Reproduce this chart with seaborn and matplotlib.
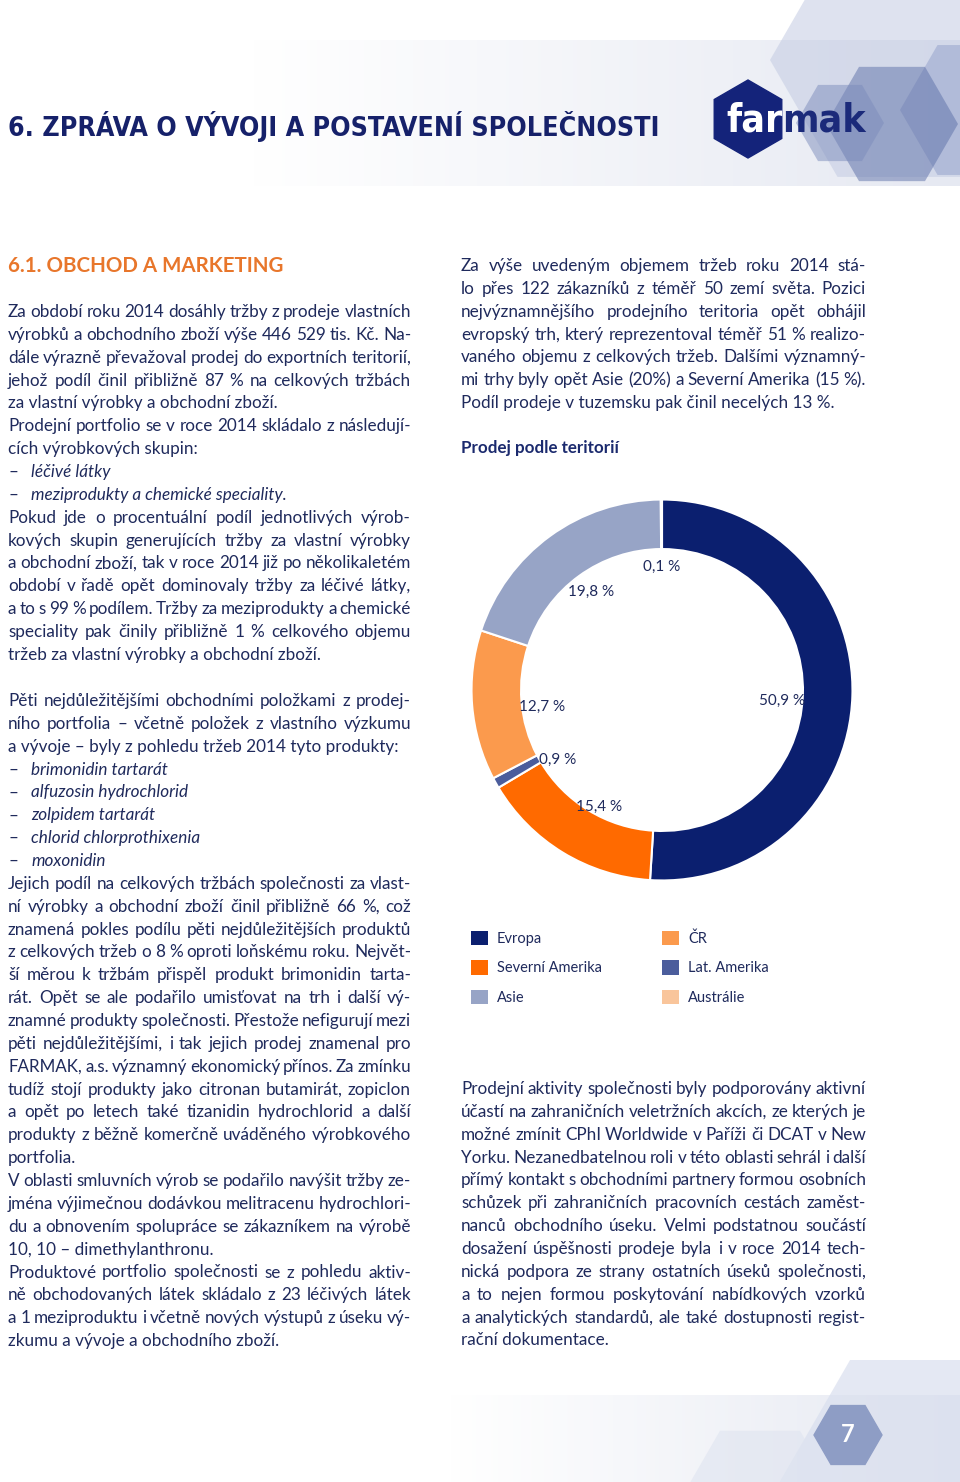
import numpy as np
import pandas as pd
import seaborn as sns
import matplotlib.pyplot as plt
from matplotlib import font_manager as fm
from matplotlib.patches import RegularPolygon, Rectangle, Patch
from matplotlib.colors import LinearSegmentedColormap

# chart data
regions = ['Evropa', 'Severní Amerika', 'Lat. Amerika', 'ČR', 'Asie', 'Austrálie']
shares = [50.9, 15.4, 0.9, 12.7, 19.8, 0.1]
share_labels = ['50,9 %', '15,4 %', '0,9 %', '12,7 %', '19,8 %', '0,1 %']
region_colors = ['#0b1f6f', '#ff6a00', '#4b5d9c', '#fb9a4d', '#97a4c6', '#f9c59b']
legend_order = ['Evropa', 'Severní Amerika', 'Asie', 'ČR', 'Lat. Amerika', 'Austrálie']

title = '6. ZPRÁVA O VÝVOJI A POSTAVENÍ SPOLEČNOSTI'
section = '6.1. OBCHOD A MARKETING'
chart_title = 'Prodej podle teritorií'

# j = justified, l = last line of paragraph, b = bullet
left_top = [
    ('j', 'Za období roku 2014 dosáhly tržby z prodeje vlastních'),
    ('j', 'výrobků a obchodního zboží výše 446 529 tis. Kč. Na-'),
    ('j', 'dále výrazně převažoval prodej do exportních teritorií,'),
    ('j', 'jehož podíl činil přibližně 87 % na celkových tržbách'),
    ('l', 'za vlastní výrobky a obchodní zboží.'),
    ('j', 'Prodejní portfolio se v roce 2014 skládalo z následují-'),
    ('l', 'cích výrobkových skupin:'),
    ('b', 'léčivé látky'),
    ('b', 'meziprodukty a chemické speciality.'),
    ('j', 'Pokud jde o procentuální podíl jednotlivých výrob-'),
    ('j', 'kových skupin generujících tržby za vlastní výrobky'),
    ('j', 'a obchodní zboží, tak v roce 2014 již po několikaletém'),
    ('j', 'období v řadě opět dominovaly tržby za léčivé látky,'),
    ('j', 'a to s 99 % podílem. Tržby za meziprodukty a chemické'),
    ('j', 'speciality pak činily přibližně 1 % celkového objemu'),
    ('l', 'tržeb za vlastní výrobky a obchodní zboží.'),
]
left_bottom = [
    ('j', 'Pěti nejdůležitějšími obchodními položkami z prodej-'),
    ('j', 'ního portfolia – včetně položek z vlastního výzkumu'),
    ('l', 'a vývoje – byly z pohledu tržeb 2014 tyto produkty:'),
    ('b', 'brimonidin tartarát'),
    ('b', 'alfuzosin hydrochlorid'),
    ('b', 'zolpidem tartarát'),
    ('b', 'chlorid chlorprothixenia'),
    ('b', 'moxonidin'),
    ('j', 'Jejich podíl na celkových tržbách společnosti za vlast-'),
    ('j', 'ní výrobky a obchodní zboží činil přibližně 66 %, což'),
    ('j', 'znamená pokles podílu pěti nejdůležitějších produktů'),
    ('j', 'z celkových tržeb o 8 % oproti loňskému roku. Největ-'),
    ('j', 'ší měrou k tržbám přispěl produkt brimonidin tarta-'),
    ('j', 'rát. Opět se ale podařilo umisťovat na trh i další vý-'),
    ('j', 'znamné produkty společnosti. Přestože nefigurují mezi'),
    ('j', 'pěti nejdůležitějšími, i tak jejich prodej znamenal pro'),
    ('j', 'FARMAK, a.s. významný ekonomický přínos. Za zmínku'),
    ('j', 'tudíž stojí produkty jako citronan butamirát, zopiclon'),
    ('j', 'a opět po letech také tizanidin hydrochlorid a další'),
    ('j', 'produkty z běžně komerčně uváděného výrobkového'),
    ('l', 'portfolia.'),
    ('j', 'V oblasti smluvních výrob se podařilo navýšit tržby ze-'),
    ('j', 'jména výjimečnou dodávkou melitracenu hydrochlori-'),
    ('j', 'du a obnovením spolupráce se zákazníkem na výrobě'),
    ('l', '10, 10 – dimethylanthronu.'),
    ('j', 'Produktové portfolio společnosti se z pohledu aktiv-'),
    ('j', 'ně obchodovaných látek skládalo z 23 léčivých látek'),
    ('j', 'a 1 meziproduktu i včetně nových výstupů z úseku vý-'),
    ('l', 'zkumu a vývoje a obchodního zboží.'),
]
right_top = [
    ('j', 'Za výše uvedeným objemem tržeb roku 2014 stá-'),
    ('j', 'lo přes 122 zákazníků z téměř 50 zemí světa. Pozici'),
    ('j', 'nejvýznamnějšího prodejního teritoria opět obhájil'),
    ('j', 'evropský trh, který reprezentoval téměř 51 % realizo-'),
    ('j', 'vaného objemu z celkových tržeb. Dalšími významný-'),
    ('j', 'mi trhy byly opět Asie (20%) a Severní Amerika (15 %).'),
    ('l', 'Podíl prodeje v tuzemsku pak činil necelých 13 %.'),
]
right_bottom = [
    ('j', 'Prodejní aktivity společnosti byly podporovány aktivní'),
    ('j', 'účastí na zahraničních veletržních akcích, ze kterých je'),
    ('j', 'možné zmínit CPhI Worldwide v Paříži či DCAT v New'),
    ('j', 'Yorku. Nezanedbatelnou roli v této oblasti sehrál i další'),
    ('j', 'přímý kontakt s obchodními partnery formou osobních'),
    ('j', 'schůzek při zahraničních pracovních cestách zaměst-'),
    ('j', 'nanců obchodního úseku. Velmi podstatnou součástí'),
    ('j', 'dosažení úspěšnosti prodeje byla i v roce 2014 tech-'),
    ('j', 'nická podpora ze strany ostatních úseků společnosti,'),
    ('j', 'a to nejen formou poskytování nabídkových vzorků'),
    ('j', 'a analytických standardů, ale také dostupnosti regist-'),
    ('l', 'rační dokumentace.'),
]

sns.set_theme(style='white')
plt.rcParams['font.family'] = ['Lato', 'DejaVu Sans']


def condensed_bold():
    # a bold narrow face for the headline, if one is installed
    prefs = ['Noto Sans', 'Liberation Sans Narrow', 'DejaVu Sans', 'Open Sans', 'Roboto']
    found = []
    for f in fm.fontManager.ttflist:
        w = f.weight if isinstance(f.weight, int) else fm.weight_dict.get(f.weight, 400)
        narrow = 'condensed' in str(f.stretch) or 'Narrow' in f.name
        if narrow and 600 <= w <= 800 and f.style == 'normal':
            rank = prefs.index(f.name) if f.name in prefs else len(prefs)
            found.append(('Extra' in f.fname, rank, abs(w - 700), f.fname))
    if found:
        return fm.FontProperties(fname=sorted(found)[0][3])
    return fm.FontProperties(family='Lato', weight='bold')


head_font = condensed_bold()

W, H = 960, 1482
navy = '#1f2a5c'
fig = plt.figure(figsize=(9.6, 14.82), dpi=100)
fig.patch.set_facecolor('white')
bg = fig.add_axes([0, 0, 1, 1])
bg.axis('off')
renderer = fig.canvas.get_renderer()


def width_of(t):
    return t.get_window_extent(renderer).width


def fit(t, target):
    # scale a text so its width matches the reference
    t.set_fontsize(t.get_fontsize() * target / width_of(t))


# header / footer decoration
light = LinearSegmentedColormap.from_list('band', ['#ffffff', '#e6e9f2'])
bg.imshow(np.linspace(0, 1, 200)[None, :], cmap=light, aspect='auto',
          extent=(250, 960, 186, 40), zorder=0)
bg.imshow(np.linspace(0, 1, 200)[None, :], cmap=light, aspect='auto',
          extent=(450, 960, 1482, 1395), zorder=0)
head_clip = Rectangle((0, 0), 960, 186, transform=bg.transData)
foot_clip = Rectangle((0, 1360), 960, 122, transform=bg.transData)
for (cx, cy, r, c, a) in [(905, 60, 135, '#c3cbe2', 0.55), (975, 110, 75, '#8a99c6', 0.45),
                          (892, 124, 66, '#5d70a8', 0.5), (840, 123, 44, '#7c8cbc', 0.5)]:
    hx = RegularPolygon((cx, cy), 6, radius=r, orientation=np.pi / 6, color=c, alpha=a,
                        lw=0, zorder=1)
    bg.add_patch(hx)
    hx.set_clip_path(head_clip)
for (cx, cy, r, c, a) in [(930, 1490, 155, '#d9dfee', 0.7), (760, 1500, 80, '#dfe4f0', 0.6)]:
    hx = RegularPolygon((cx, cy), 6, radius=r, orientation=np.pi / 6, color=c, alpha=a,
                        lw=0, zorder=1)
    bg.add_patch(hx)
    hx.set_clip_path(foot_clip)

# logo: "far" in white on the hexagon, "mak" in navy, same size, 138 px together
bg.add_patch(RegularPolygon((748, 119), 6, radius=39, orientation=0, color='#14237a', zorder=3))
t1 = bg.text(726, 131, 'far', ha='left', va='baseline', fontproperties=head_font,
             fontsize=28, color='white', zorder=4)
t2 = bg.text(0, 131, 'mak', ha='left', va='baseline', fontproperties=head_font,
             fontsize=28, color='#1b2a7a', zorder=4)
k = 140 / (width_of(t1) + width_of(t2))
t1.set_fontsize(28 * k)
t2.set_fontsize(28 * k)
t2.set_x(726 + width_of(t1))

# page number
bg.add_patch(RegularPolygon((848, 1435), 6, radius=34, orientation=np.pi / 6,
                            color='#8e9dc5', zorder=3))
bg.text(848, 1435, '7', ha='center', va='center', fontsize=17, fontweight='bold',
        color='white', zorder=4)

t = bg.text(8, 136, title, va='baseline', fontproperties=head_font, fontsize=22,
            color='#16216a', zorder=4)
fit(t, 649)
t = bg.text(8, 272, section, va='baseline', fontsize=15, fontweight='bold', color='#e8762b')
fit(t, 275)
t = bg.text(461, 453, chart_title, va='baseline', fontsize=12, fontweight='bold',
            color='#1b2a6e')
fit(t, 157)

body = dict(fontsize=12.3, color=navy, zorder=4)


def put_line(x, y, kind, s, width):
    if kind == 'b':
        bg.text(x, y, '–', va='baseline', **body)
        bg.text(x + 23, y, s, va='baseline', style='italic', **body)
        return
    if kind == 'l':
        bg.text(x, y, s, va='baseline', **body)
        return
    words = s.split(' ')
    size = body['fontsize']
    sizes = []
    for w in words:
        tw = bg.text(0, 0, w, **body)
        sizes.append(width_of(tw))
        tw.remove()
    gap = (width - sum(sizes)) / (len(words) - 1)
    if gap < 2.5:
        # too long for the column: shrink this line a little
        k = (width - 2.5 * (len(words) - 1)) / sum(sizes)
        sizes = [sz * k for sz in sizes]
        size = size * k
        gap = 2.5
    pos = x
    for w, sz in zip(words, sizes):
        bg.text(pos, y, w, va='baseline', fontsize=size, color=navy, zorder=4)
        pos += sz + gap


pitch = 22.86
for block, x0, y0, width in [(left_top, 8, 317, 403), (left_bottom, 8, 706, 403),
                             (right_top, 461, 271, 405), (right_bottom, 461, 1094, 405)]:
    for i, (kind, s) in enumerate(block):
        put_line(x0, y0 + i * pitch, kind, s, width)

bg.set_xlim(0, W)
bg.set_ylim(H, 0)

# donut chart
ax = fig.add_axes([(662 - 200) / W, 1 - (690 + 200) / H, 400 / W, 400 / H])
wedges, _ = ax.pie(shares, colors=region_colors, startangle=90, counterclock=False,
                   radius=1, wedgeprops=dict(width=0.26, edgecolor='white', linewidth=1.5))
for wd, lab in zip(wedges, share_labels):
    mid = np.deg2rad((wd.theta1 + wd.theta2) / 2)
    ax.text(0.63 * np.cos(mid), 0.68 * np.sin(mid) - 0.026, lab, ha='center',
            va='center_baseline', fontsize=11, color=navy)
ax.set_xlim(-1.05, 1.05)
ax.set_ylim(-1.05, 1.05)
ax.set_aspect('equal')
ax.axis('off')

color_of = dict(zip(regions, region_colors))
handles = [Patch(facecolor=color_of[r], edgecolor='none') for r in legend_order]
fig.legend(handles, legend_order, loc='upper left', bbox_to_anchor=(471 / W, 1 - 931 / H),
           ncol=2, frameon=False, fontsize=10.5, labelcolor=navy, handlelength=1.15,
           handleheight=1.15, handletextpad=0.62, columnspacing=4.15, labelspacing=0.97,
           borderpad=0, borderaxespad=0)

fig.savefig('out.png', dpi=100, facecolor='white')
